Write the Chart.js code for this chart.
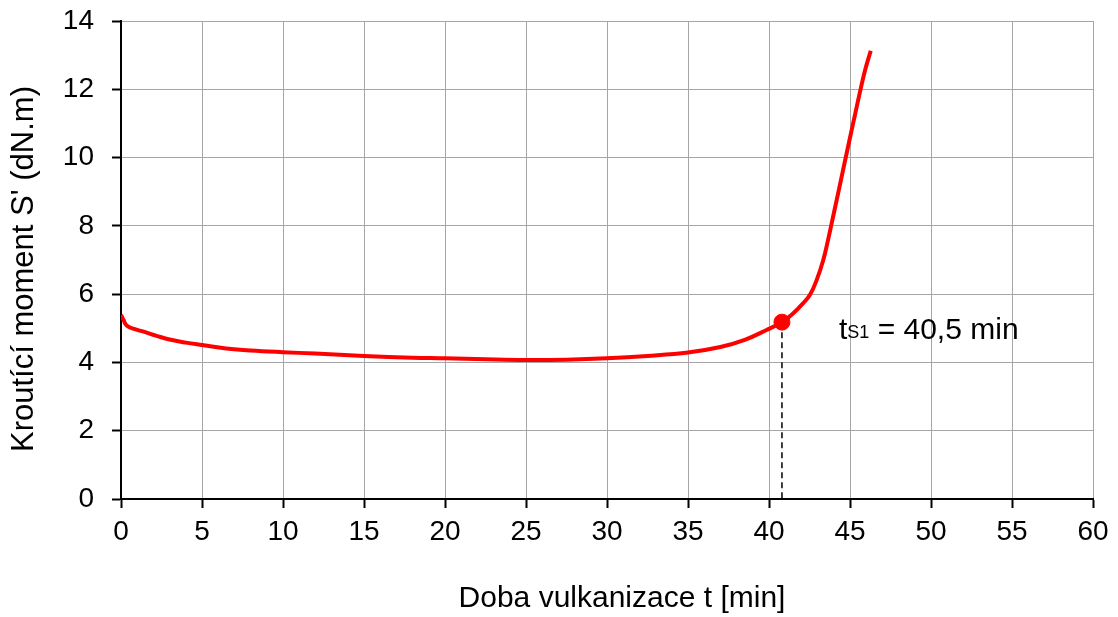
<!DOCTYPE html>
<html>
<head>
<meta charset="utf-8">
<script src="https://cdn.jsdelivr.net/npm/chart.js@4.4.1/dist/chart.umd.min.js"></script>
<style>
  html, body { margin: 0; padding: 0; background: #fff; }
  #wrap { width: 1118px; height: 617px; }
</style>
</head>
<body>
<div id="wrap"><canvas id="c" width="1118" height="617"></canvas></div>
<script>
// ---- Data ----
const timeMin = [0, 0.15, 0.35, 0.8, 1.4, 2.2, 3.0, 4.0, 5.0, 6.5, 8.0, 10, 12, 15, 18, 20, 22.5, 25, 27.5, 30, 32.5, 35, 37, 38.5, 39.85, 40.8, 41.5, 42.1, 42.53, 42.94, 43.35, 43.66, 43.87, 44.18, 44.45, 44.69, 45.0, 45.31, 45.62, 45.93, 46.28];
const torque  = [5.39, 5.25, 5.08, 4.98, 4.90, 4.78, 4.67, 4.58, 4.51, 4.41, 4.35, 4.30, 4.26, 4.19, 4.14, 4.12, 4.09, 4.07, 4.08, 4.12, 4.19, 4.29, 4.45, 4.66, 4.95, 5.18, 5.44, 5.73, 5.98, 6.41, 7.00, 7.62, 8.08, 8.76, 9.36, 9.90, 10.58, 11.26, 11.93, 12.56, 13.13];
const ts1Time = 40.8;
const ts1Torque = 5.18;
const ts1Label = '40,5 min';
const xTicks = [0, 5, 10, 15, 20, 25, 30, 35, 40, 45, 50, 55, 60];
const yTicks = [0, 2, 4, 6, 8, 10, 12, 14];
const xTitle = 'Doba vulkanizace t [min]';
const yTitle = "Kroutící moment S' (dN.m)";

const FONT = 'Liberation Sans, Arial, sans-serif';

const curve = timeMin.map((t, i) => ({ x: t, y: torque[i] }));

const textPlugin = {
  id: 'texts',
  afterDraw(chart) {
    const { ctx, scales, chartArea } = chart;
    ctx.save();
    ctx.fillStyle = '#000';
    // ts1 annotation
    const x0 = scales.x.getPixelForValue(ts1Time) + 57;
    const y0 = scales.y.getPixelForValue(ts1Torque) + 17;
    ctx.textBaseline = 'alphabetic';
    ctx.textAlign = 'left';
    ctx.font = '30px ' + FONT;
    ctx.fillText('t', x0, y0);
    let x = x0 + ctx.measureText('t').width;
    ctx.font = '18px ' + FONT;
    ctx.fillText('S1', x, y0 - 1);
    x += ctx.measureText('S1').width;
    ctx.font = '30px ' + FONT;
    ctx.fillText(' = ' + ts1Label, x, y0);
    // x axis title
    ctx.textAlign = 'center';
    ctx.textBaseline = 'middle';
    ctx.font = '30px ' + FONT;
    ctx.fillText(xTitle, (chartArea.left + chartArea.right) / 2 + 15, chartArea.bottom + 100);
    // y axis title
    ctx.translate(24, (chartArea.top + chartArea.bottom) / 2 + 9);
    ctx.rotate(-Math.PI / 2);
    ctx.font = '31px ' + FONT;
    ctx.fillText(yTitle, 0, 0);
    ctx.restore();
  }
};

new Chart(document.getElementById('c'), {
  type: 'scatter',
  data: {
    datasets: [
      {
        data: curve,
        showLine: true,
        borderColor: '#ff0000',
        borderWidth: 4,
        pointRadius: 0,
        tension: 0.4,
        fill: false,
        order: 2
      },
      {
        data: [{ x: ts1Time, y: ts1Torque }, { x: ts1Time, y: 0 }],
        showLine: true,
        borderColor: '#000',
        borderWidth: 1.5,
        borderDash: [6, 4],
        pointRadius: 0,
        order: 3
      },
      {
        data: [{ x: ts1Time, y: ts1Torque }],
        showLine: false,
        pointRadius: 8,
        pointBackgroundColor: '#ff0000',
        pointBorderColor: '#ff0000',
        order: 1
      }
    ]
  },
  options: {
    responsive: false,
    animation: false,
    events: [],
    layout: { padding: { left: 0, right: 25, top: 21, bottom: 0 } },
    plugins: { legend: { display: false }, tooltip: { enabled: false } },
    scales: {
      x: {
        type: 'linear',
        min: 0, max: 60,
        afterFit(s) { s.height = 118; },
        afterBuildTicks(s) { s.ticks = xTicks.map(v => ({ value: v })); },
        ticks: { color: '#000', font: { family: FONT, size: 28 }, padding: 7, maxRotation: 0 },
        grid: { color: '#a6a6a6', lineWidth: 1, tickColor: '#000', tickLength: 9, tickWidth: 2 },
        border: { color: '#000', width: 2 },
        title: { display: false }
      },
      y: {
        type: 'linear',
        min: 0, max: 14,
        afterFit(s) { s.width = 121; s.paddingTop = 0; s.paddingBottom = 0; },
        afterBuildTicks(s) { s.ticks = yTicks.map(v => ({ value: v })); },
        ticks: { color: '#000', font: { family: FONT, size: 28 }, padding: 18 },
        grid: { color: '#a6a6a6', lineWidth: 1, tickColor: '#000', tickLength: 9, tickWidth: 2 },
        border: { color: '#000', width: 2 },
        title: { display: false }
      }
    }
  },
  plugins: [textPlugin]
});
</script>
</body>
</html>
